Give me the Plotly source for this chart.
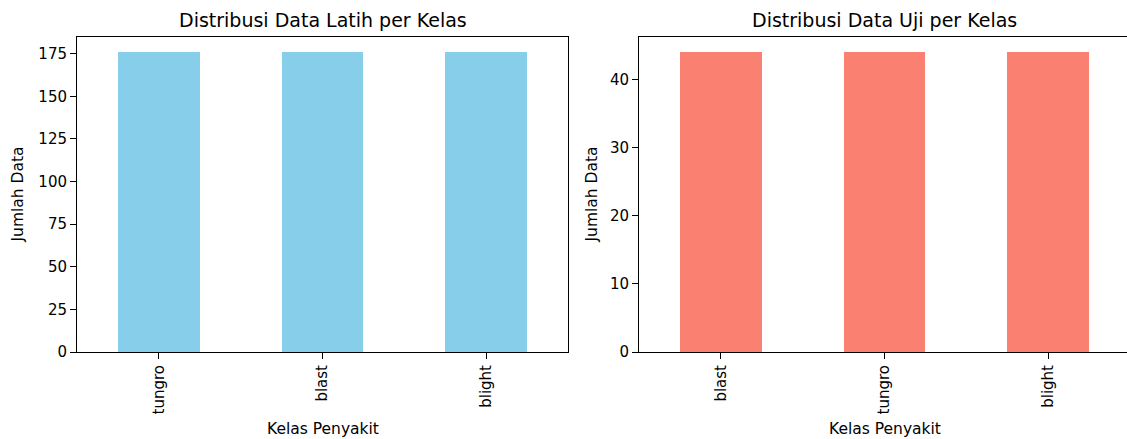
import plotly.graph_objects as go

train_classes = ["tungro", "blast", "blight"]
train_counts = [176, 176, 176]
test_classes = ["blast", "tungro", "blight"]
test_counts = [44, 44, 44]

W, H = 1127, 439
FONT = "DejaVu Sans"

fig = go.Figure()
fig.add_trace(go.Bar(x=train_classes, y=train_counts, width=0.5,
                     marker=dict(color="#87CEEB", line=dict(width=0)),
                     xaxis="x", yaxis="y", showlegend=False, hoverinfo="skip"))
fig.add_trace(go.Bar(x=test_classes, y=test_counts, width=0.5,
                     marker=dict(color="#FA8072", line=dict(width=0)),
                     xaxis="x2", yaxis="y2", showlegend=False, hoverinfo="skip"))

L1, R1 = 77, 568
L2, R2 = 639, 1130
T, B = 37, 352
ydom = [1 - B / H, 1 - T / H]

axis_common = dict(showgrid=False, zeroline=False, ticks="outside", ticklen=6,
                   tickwidth=1, tickcolor="black", linecolor="black", linewidth=1,
                   showline=True, automargin=False,
                   tickfont=dict(family=FONT, size=15, color="black"))

tmax = max(train_counts) * 1.05
smax = max(test_counts) * 1.05
right_end = -0.5 + 3 * (W - L2) / (R2 - L2)

fig.update_layout(
    template="none",
    width=W, height=H, margin=dict(l=0, r=0, t=0, b=0, pad=0),
    paper_bgcolor="white", plot_bgcolor="white",
    xaxis=dict(domain=[L1 / W, R1 / W], range=[-0.5, 2.5], tickangle=-90,
               mirror=True, anchor="y", **axis_common),
    yaxis=dict(domain=ydom, range=[0, tmax], tickvals=[0, 25, 50, 75, 100, 125, 150, 175],
               mirror=True, anchor="x", **axis_common),
    xaxis2=dict(domain=[L2 / W, 1.0], range=[-0.5, right_end], tickangle=-90,
                mirror=True, anchor="y2", **axis_common),
    yaxis2=dict(domain=ydom, range=[0, smax], tickvals=[0, 10, 20, 30, 40],
                mirror=False, anchor="x2", **axis_common),
    bargap=0,
)

def ann(text, x, y, size, angle=0):
    fig.add_annotation(text=text, x=x / W, y=1 - y / H, xref="paper", yref="paper",
                       showarrow=False, textangle=angle,
                       font=dict(family=FONT, size=size, color="black"),
                       xanchor="center", yanchor="middle")

ann("Distribusi Data Latih per Kelas", (L1 + R1) / 2, 20, 19)
ann("Distribusi Data Uji per Kelas", (L2 + R2) / 2, 20, 19)
ann("Kelas Penyakit", (L1 + R1) / 2, 429, 15.5)
ann("Kelas Penyakit", (L2 + R2) / 2, 429, 15.5)
ann("Jumlah Data", 18, (T + B) / 2, 15.5, -90)
ann("Jumlah Data", 592, (T + B) / 2, 15.5, -90)

fig.write_html("out.html", config={"displayModeBar": False},
               post_script="document.body.style.margin='0';document.body.style.overflow='hidden';")
